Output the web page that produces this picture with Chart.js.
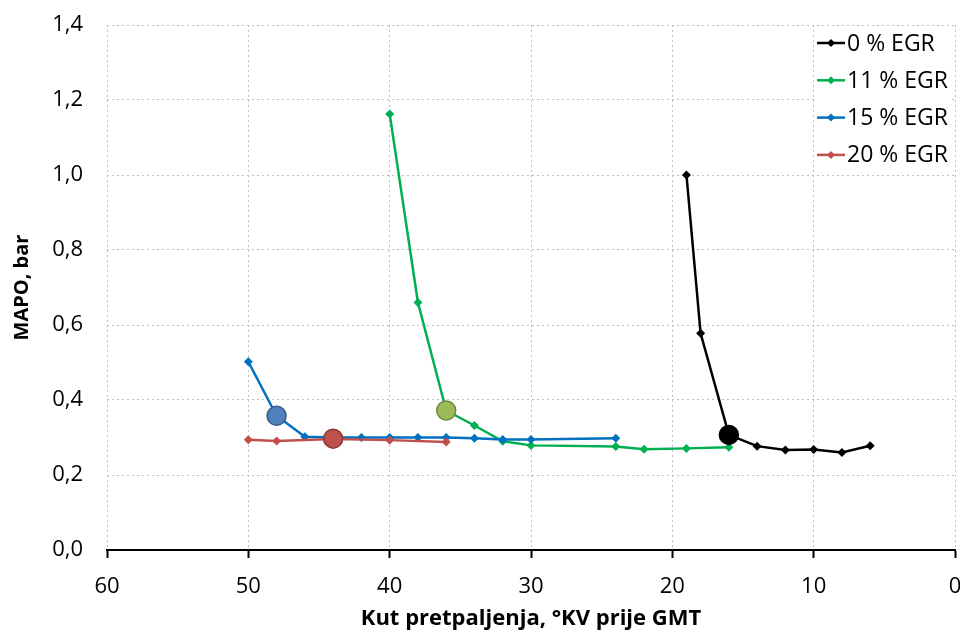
<!DOCTYPE html>
<html><head><meta charset="utf-8">
<script src="https://cdn.jsdelivr.net/npm/chart.js@4/dist/chart.umd.min.js"></script>
<style>html,body{margin:0;padding:0;background:#fff}#wrap{width:960px;height:633px}</style>
</head><body><div id="wrap"><canvas id="c" width="960" height="633"></canvas></div>
<script>
// Data (x: ignition advance, °KV before TDC; y: MAPO, bar)
const seriesLabels = ['0 % EGR', '11 % EGR', '15 % EGR', '20 % EGR'];
const angle0  = [19, 18, 16, 14, 12, 10, 8, 6];
const mapo0   = [1.000, 0.578, 0.307, 0.277, 0.267, 0.268, 0.260, 0.278];
const angle11 = [40, 38, 36, 34, 32, 30, 24, 22, 19, 16];
const mapo11  = [1.163, 0.660, 0.372, 0.332, 0.290, 0.279, 0.276, 0.269, 0.271, 0.274];
const angle15 = [50, 48, 46, 44, 42, 40, 38, 36, 34, 32, 30, 24];
const mapo15  = [0.502, 0.358, 0.302, 0.300, 0.300, 0.300, 0.300, 0.300, 0.298, 0.295, 0.295, 0.298];
const angle20 = [50, 48, 44, 40, 36];
const mapo20  = [0.294, 0.291, 0.296, 0.293, 0.288];
// highlighted (optimum) points, one per series
const optAngle = [16, 36, 48, 44];
const optMapo  = [0.307, 0.372, 0.358, 0.297];
const xTicks = [60, 50, 40, 30, 20, 10, 0];
const yTicks = [0, 0.2, 0.4, 0.6, 0.8, 1.0, 1.2, 1.4];

const lineColors = ['#000000', '#00B050', '#0070C0', '#C0504D'];
const optFill    = ['#000000', '#9BBB59', '#4F81BD', '#C0504D'];
const optBorder  = ['#000000', '#71893F', '#385D8A', '#8C3836'];

const pts = (xs, ys) => xs.map((x, i) => ({x: x, y: ys[i]}));
const seriesData = [pts(angle0, mapo0), pts(angle11, mapo11), pts(angle15, mapo15), pts(angle20, mapo20)];

const datasets = [];
seriesData.forEach((d, i) => {
  datasets.push({
    label: seriesLabels[i], data: d, showLine: true,
    borderColor: lineColors[i], backgroundColor: lineColors[i],
    borderWidth: 2.5, pointStyle: 'rectRot', pointRadius: 4.5, pointBorderWidth: 0,
    order: 1 + (3 - i) * 0.1
  });
});
optAngle.forEach((x, i) => {
  datasets.push({
    label: 'opt' + i, data: [{x: x, y: optMapo[i]}], showLine: false,
    backgroundColor: optFill[i], borderColor: optBorder[i], borderWidth: 1.5,
    pointStyle: 'circle', pointRadius: 9.5, order: 0
  });
});

const fontFam = '"Open Sans", "DejaVu Sans", sans-serif';

const legendPlugin = {
  id: 'customLegend',
  afterDraw(chart) {
    const ctx = chart.ctx;
    ctx.save();
    ctx.fillStyle = '#fff';
    ctx.fillRect(817, 27, 135, 146);
    seriesLabels.forEach((lab, i) => {
      const y = 43 + i * 37.3;
      ctx.strokeStyle = lineColors[i];
      ctx.lineWidth = 2.5;
      ctx.beginPath(); ctx.moveTo(817, y); ctx.lineTo(845, y); ctx.stroke();
      ctx.fillStyle = lineColors[i];
      ctx.beginPath();
      ctx.moveTo(831, y - 4); ctx.lineTo(835, y); ctx.lineTo(831, y + 4); ctx.lineTo(827, y); ctx.closePath(); ctx.fill();
      ctx.fillStyle = '#000';
      ctx.font = '23px ' + fontFam;
      ctx.textBaseline = 'middle';
      ctx.textAlign = 'left';
      ctx.fillText(lab, 847, y + 1);
    });
    ctx.restore();
  }
};

const noPad = (s) => { s.paddingTop = 0; s.paddingBottom = 0; s.paddingLeft = 0; s.paddingRight = 0; };

new Chart(document.getElementById('c'), {
  type: 'scatter',
  data: { datasets: datasets },
  options: {
    responsive: false, animation: false,
    layout: { autoPadding: false, padding: { top: 25, right: 5, left: 0, bottom: 0 } },
    plugins: { legend: { display: false }, tooltip: { enabled: false } },
    scales: {
      x: {
        type: 'linear', min: 0, max: 60, reverse: true,
        afterBuildTicks: (s) => { s.ticks = xTicks.map(v => ({value: v})); },
        afterFit: (s) => { s.height = 83; noPad(s); },
        ticks: { color: '#000', font: { family: fontFam, size: 22 }, padding: 16, maxRotation: 0,
                 callback: (v) => String(v) },
        grid: { color: '#BFBFBF', tickColor: '#000', tickLength: 8, tickBorderDash: [], tickWidth: 2 },
        border: { display: true, color: '#000', width: 2, dash: [2, 3] },
        title: { display: true, text: 'Kut pretpaljenja, °KV prije GMT', color: '#000',
                 font: { family: fontFam, size: 22, weight: 'bold' }, padding: { top: 0, bottom: 1 } }
      },
      y: {
        type: 'linear', min: 0, max: 1.4,
        afterBuildTicks: (s) => { s.ticks = yTicks.map(v => ({value: v})); },
        afterFit: (s) => { s.width = 107; noPad(s); },
        ticks: { color: '#000', font: { family: fontFam, size: 22 }, padding: 24,
                 callback: (v) => v.toFixed(1).replace('.', ',') },
        grid: { color: '#BFBFBF', drawTicks: false },
        border: { display: false, dash: [2, 3] },
        title: { display: true, text: 'MAPO, bar', color: '#000',
                 font: { family: fontFam, size: 20, weight: 'bold' }, padding: { top: 10, bottom: 0 } }
      }
    }
  },
  plugins: [legendPlugin]
});
</script>
</body></html>
